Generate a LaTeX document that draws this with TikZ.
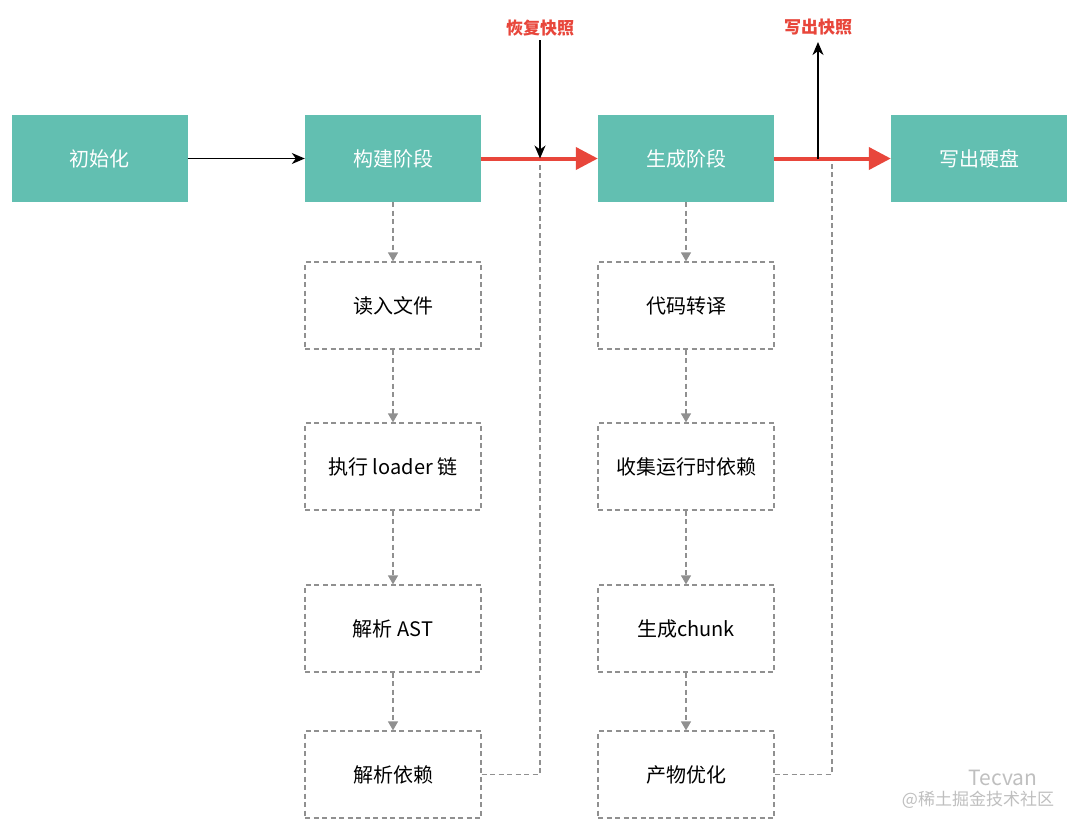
\documentclass[tikz,border=0pt]{standalone}
\usepackage{fontspec}
\setmainfont{Noto Sans CJK SC}
\usetikzlibrary{arrows.meta}
\definecolor{teal1}{HTML}{62BFB1}
\definecolor{red1}{HTML}{E8463B}
\definecolor{dgray}{HTML}{909090}
\begin{document}
\begin{tikzpicture}[x=1pt,y=-1pt,
  stage/.style={fill=teal1,draw=none,minimum width=176pt,minimum height=87pt,inner sep=0pt,text=white,font=\fontsize{20}{23}\selectfont},
  stepbox/.style={draw=dgray,dashed,dash pattern=on 5pt off 3.5pt,line width=1.3pt,minimum width=176pt,minimum height=87pt,inner sep=0pt,text=black,font=\fontsize{20}{23}\selectfont},
  flowdash/.style={draw=dgray,line width=1.3pt,dash pattern=on 5pt off 3.5pt,-{Triangle[length=9pt,width=10pt]}},
  backdash/.style={draw=dgray,line width=1.3pt,dash pattern=on 5pt off 3.5pt},
  blackarr/.style={draw=black,line width=1.3pt,-{Stealth[length=13pt,width=11pt,inset=4pt]}},
  redarr/.style={draw=red1,line width=4pt,-{Triangle[length=22pt,width=22pt]}},
  redlabel/.style={text=red1,font=\fontsize{17}{19}\selectfont\bfseries,inner sep=0pt},
  wm/.style={text=gray!50,inner sep=0pt}
]
\useasboundingbox (0,0) rectangle (1080,831);
\fill[white] (0,0) rectangle (1080,831);

% top stages
\node[stage] (init) at (99.5,158.5) {初始化};
\node[stage] (build) at (393,158.5) {构建阶段};
\node[stage] (gen) at (686,158.5) {生成阶段};
\node[stage] (write) at (979,158.5) {写出硬盘};

% build column
\node[stepbox] (b1) at (393,305.5) {读入文件};
\node[stepbox] (b2) at (393,466.5) {执行 loader 链};
\node[stepbox] (b3) at (393,628.5) {解析 AST};
\node[stepbox] (b4) at (393,774.5) {解析依赖};

% gen column
\node[stepbox] (g1) at (686,305.5) {代码转译};
\node[stepbox] (g2) at (686,466.5) {收集运行时依赖};
\node[stepbox] (g3) at (686,628.5) {生成chunk};
\node[stepbox] (g4) at (686,774.5) {产物优化};

% vertical dashed arrows
\draw[flowdash] (build.south) -- (b1.north);
\draw[flowdash] (b1.south) -- (b2.north);
\draw[flowdash] (b2.south) -- (b3.north);
\draw[flowdash] (b3.south) -- (b4.north);
\draw[flowdash] (gen.south) -- (g1.north);
\draw[flowdash] (g1.south) -- (g2.north);
\draw[flowdash] (g2.south) -- (g3.north);
\draw[flowdash] (g3.south) -- (g4.north);

% coordinates on the main line
\coordinate (restore) at (540,158.5);
\coordinate (snapout) at (818,158.5);
\coordinate (back2) at (832,158.5);

% dashed returns
\draw[backdash] (b4.east) -| (restore);
\draw[backdash] (g4.east) -| (back2);

% main arrows
\draw[blackarr] (init.east) -- (build.west);
\draw[redarr] (build.east) -- (gen.west);
\draw[redarr] (gen.east) -- (write.west);

% snapshots
\node[redlabel] (lrestore) at (540,28) {恢复快照};
\node[redlabel] (lwrite) at (818,27) {写出快照};
\draw[blackarr] (540,40) -- (restore);
\draw[blackarr] (snapout) -- (818,42);

% watermark
\node[wm,font=\fontsize{21}{23}\selectfont] (wm1) at (1003,778) {Tecvan};
\node[wm,font=\fontsize{17}{19}\selectfont] (wm2) at (978,800) {@稀土掘金技术社区};
\end{tikzpicture}
\end{document}
